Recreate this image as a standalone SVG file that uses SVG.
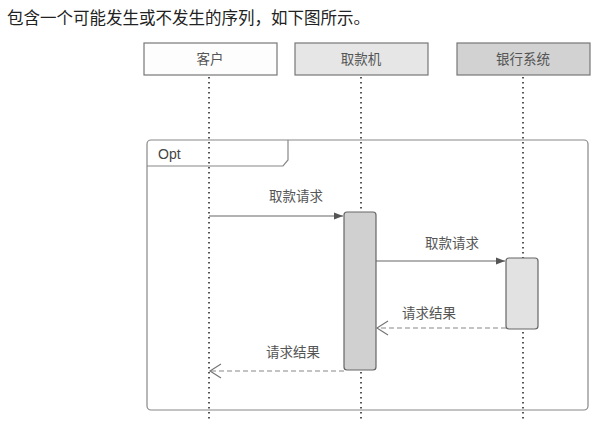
<svg xmlns="http://www.w3.org/2000/svg" width="605" height="432" viewBox="0 0 605 432">
<defs>
<style>
text{font-family:"Liberation Sans","Noto Sans CJK SC",sans-serif;}
.title{font-size:16.5px;fill:#222;}
.lbl{font-size:13.5px;fill:#555;text-anchor:middle;}
.head{stroke:#777;stroke-width:1.2;}
.life{stroke:#555;stroke-width:2;stroke-dasharray:1.5 3.5;fill:none;}
.act{stroke:#666;stroke-width:1.2;}
.msg{stroke:#666;stroke-width:1.2;fill:none;}
.ret{stroke:#888;stroke-width:1.2;stroke-dasharray:5 3;fill:none;}
</style>
<marker id="filled" markerWidth="10" markerHeight="8" refX="9" refY="4" orient="auto" markerUnits="userSpaceOnUse">
<path d="M0,0.5 L9,4 L0,7.5 Z" fill="#555"/>
</marker>
<marker id="open" markerWidth="14" markerHeight="16" refX="12" refY="8" orient="auto" markerUnits="userSpaceOnUse">
<path d="M1,1 L12,8 L1,15" fill="none" stroke="#777" stroke-width="1.2"/>
</marker>
</defs>
<rect width="605" height="432" fill="#fff"/>
<text class="title" x="7" y="24">包含一个可能发生或不发生的序列，如下图所示。</text>

<g id="opt-frame">
<rect x="147" y="140" width="441" height="270" rx="4" fill="none" stroke="#888" stroke-width="1.2"/>
<path d="M147,166 L283,166 L288,160 L288,140" fill="none" stroke="#888" stroke-width="1.2"/>
<text x="158" y="159" style="font-size:14px;fill:#444;">Opt</text>
</g>

<g id="lifelines">
<line class="life" x1="209" y1="77" x2="209" y2="420"/>
<line class="life" x1="361" y1="77" x2="361" y2="420"/>
<line class="life" x1="523" y1="77" x2="523" y2="420"/>
</g>

<g id="customer">
<rect class="head" x="144" y="43" width="133" height="32" fill="#fdfdfd"/>
<text class="lbl" x="210" y="64">客户</text>
</g>
<g id="atm">
<rect class="head" x="295" y="43" width="133" height="32" fill="#e6e6e6"/>
<text class="lbl" x="361" y="64">取款机</text>
</g>
<g id="bank">
<rect class="head" x="457" y="43" width="133" height="32" fill="#d2d2d2"/>
<text class="lbl" x="523" y="64">银行系统</text>
</g>

<g id="atm-activation">
<rect class="act" x="344" y="212" width="32" height="158" rx="3" fill="#d0d0d0"/>
</g>
<g id="bank-activation">
<rect class="act" x="506" y="258" width="32" height="71" rx="3" fill="#e2e2e2"/>
</g>

<g id="connectors">
<line class="msg" x1="209" y1="216" x2="343" y2="216" marker-end="url(#filled)"/>
<text class="lbl" x="296" y="201">取款请求</text>
<line class="msg" x1="376" y1="261" x2="505" y2="261" marker-end="url(#filled)"/>
<text class="lbl" x="452" y="248">取款请求</text>
<line class="ret" x1="506" y1="328" x2="377" y2="328" marker-end="url(#open)"/>
<text class="lbl" x="429" y="318">请求结果</text>
<line class="ret" x1="344" y1="371" x2="210" y2="371" marker-end="url(#open)"/>
<text class="lbl" x="293" y="357">请求结果</text>
</g>
</svg>
